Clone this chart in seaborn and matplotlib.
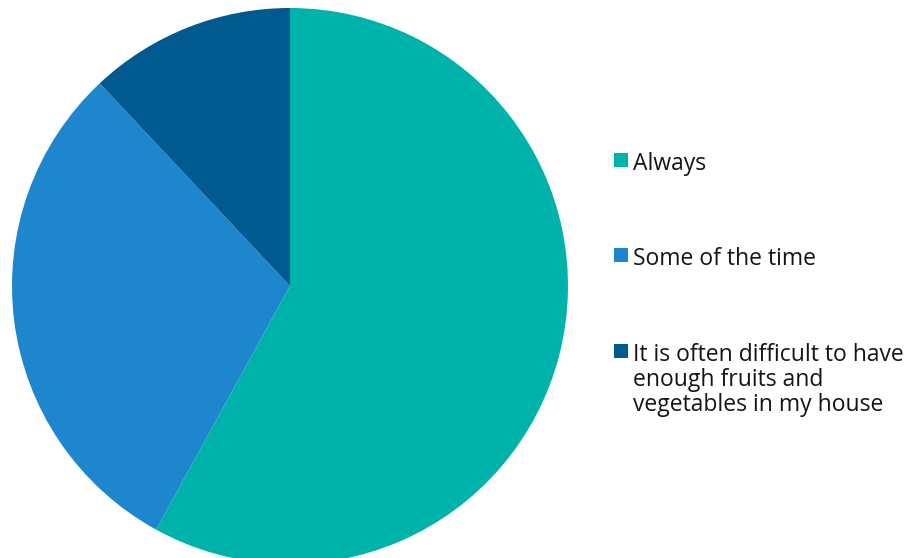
import matplotlib
matplotlib.use("Agg")
import matplotlib.pyplot as plt
from matplotlib.patches import Rectangle
import seaborn as sns

# Survey answers and their shares (%)
categories = [
    "Always",
    "Some of the time",
    "It is often difficult to have\nenough fruits and\nvegetables in my house",
]
shares = [58, 30, 12]
colors = ["#00B3AA", "#1E86CC", "#00598F"]

sns.set_theme(style="white")
plt.rcParams["font.family"] = ["Open Sans", "DejaVu Sans"]

W, H = 915, 558
fig = plt.figure(figsize=(W / 100, H / 100), dpi=100)
ax = fig.add_axes([0, 0, 1, 1])

palette = sns.color_palette(colors)
ax.pie(
    shares,
    colors=palette,
    startangle=90,
    counterclock=False,
    center=(290, H - 286),
    radius=278,
    frame=True,
    wedgeprops=dict(linewidth=0),
)
ax.set_xlim(0, W)
ax.set_ylim(0, H)
ax.set_aspect("equal")
ax.axis("off")

# Legend on the right: square swatch next to the first line of each label
baselines = [170, 265, 361]
for label, col, y in zip(categories, palette, baselines):
    ax.add_patch(Rectangle((614, H - y + 3), 14, 14, color=col, lw=0))
    for i, line in enumerate(label.split("\n")):
        ax.text(633, H - y - 25 * i, line, fontsize=16.5, color="#151515",
                fontweight="medium", va="baseline", ha="left")

fig.savefig("out.png", dpi=100)
